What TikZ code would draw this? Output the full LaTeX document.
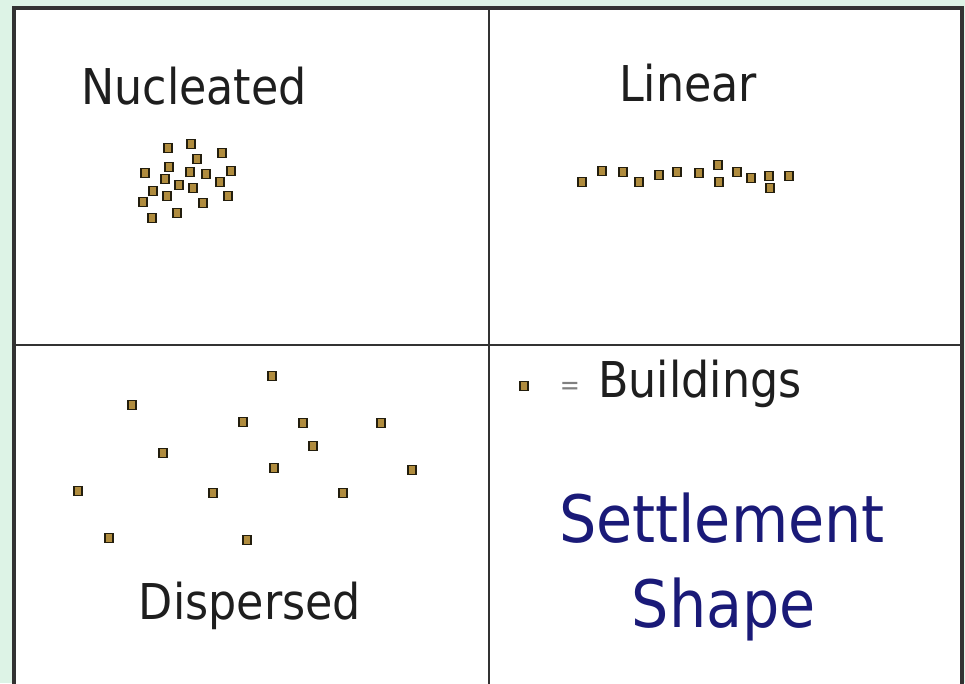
\documentclass[tikz,border=0pt]{standalone}
\usepackage{fontspec}
\setmainfont[FakeStretch=0.9]{DejaVu Sans}
\definecolor{mint}{RGB}{221,243,230}
\definecolor{frame}{RGB}{50,50,50}
\definecolor{ink}{RGB}{30,30,30}
\definecolor{navy}{RGB}{26,26,120}
\definecolor{bfill}{RGB}{176,140,62}
\definecolor{bdraw}{RGB}{35,30,14}
\tikzset{
  bldg/.style={draw=bdraw, fill=bfill, line width=1.4pt, minimum width=6.2pt, minimum height=6.8pt, inner sep=0pt},
  label/.style={font=\fontsize{37}{40}\selectfont, text=ink, anchor=base, inner sep=0pt},
  title/.style={font=\fontsize{49}{52}\selectfont, text=navy, anchor=base, inner sep=0pt}
}
\begin{document}
\begin{tikzpicture}[x=0.75pt,y=-0.75pt]
\fill[mint] (0,0) rectangle (965,683);
\useasboundingbox (0,0) rectangle (965,683);
\fill[white] (14,8) rectangle (962,700);
\draw[frame, line width=2.4pt] (14,700) -- (14,8) -- (962,8) -- (962,700);
\draw[frame, line width=1.9pt] (489,8) -- (489,700);
\draw[frame, line width=1.9pt] (14,345) -- (962,345);
% labels
\node[label] (nuc) at (194,104) {Nucleated};
\node[label] (lin) at (688,101) {Linear};
\node[label] (bui) at (700,397) {Buildings};
\node[label] (dis) at (250,619) {Dispersed};
\node[title] (set) at (722,542) {Settlement};
\node[title] (sha) at (724,627) {Shape};
\node[font=\fontsize{20}{22}\selectfont, text=gray, inner sep=0pt] (eq) at (570,388) {=};
\node[bldg] (leg) at (524,386) {};
% nucleated
\foreach \x/\y [count=\i] in {168/148,191/144,197/159,222/153,169/167,145/173,165/179,190/172,206/174,231/171,220/182,179/185,193/188,153/191,167/196,143/202,228/196,203/203,177/213,152/218}
  \node[bldg] (n\i) at (\x,\y) {};
% linear
\foreach \x/\y [count=\i] in {582/182,602/171,623/172,639/182,659/175,677/172,699/173,718/165,719/182,737/172,751/178,769/176,770/188,789/176}
  \node[bldg] (l\i) at (\x,\y) {};
% dispersed
\foreach \x/\y [count=\i] in {272/376,132/405,243/422,303/423,381/423,163/453,313/446,274/468,412/470,78/491,213/493,343/493,109/538,247/540}
  \node[bldg] (d\i) at (\x,\y) {};
\end{tikzpicture}
\end{document}
